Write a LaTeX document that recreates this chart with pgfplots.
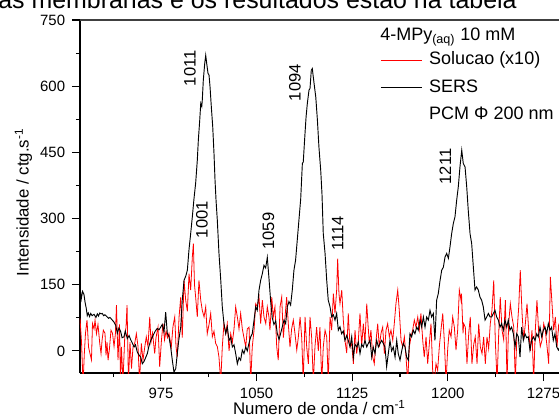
\documentclass[border=0pt]{standalone}
\usepackage{fontspec}
\setmainfont{Liberation Sans}
\usepackage{pgfplots}
\pgfplotsset{compat=1.18}

\newcommand\tickfont{\fontsize{11.2pt}{13pt}\selectfont}
\newcommand\labfont{\fontsize{12.6pt}{15pt}\selectfont}
\newcommand\legfont{\fontsize{13.5pt}{16pt}\selectfont}
\newcommand\pkfont{\fontsize{12.4pt}{15pt}\selectfont}

\begin{document}
\begin{tikzpicture}
% the reference is a cropped screenshot: keep the same window
\useasboundingbox (-60pt,-33.75pt) rectangle (359.25pt,279.75pt);
\clip (-60pt,-33.75pt) rectangle (359.25pt,279.75pt);

\node[anchor=base west, inner sep=0pt, font=\fontsize{18.7pt}{22pt}\selectfont]
  at (-61.5pt,273pt) {as membranas e os resultados estão na tabela};

\begin{axis}[
  name=ax, at={(0,0)}, anchor=south west, scale only axis,
  width=361.94pt, height=264.75pt,
  xmin=911.5, xmax=1290, ymin=-50, ymax=750,
  axis x line*=bottom, axis y line*=left,
  axis line style={line width=1.1pt, -},
  tick pos=left, tick align=outside,
  major tick length=6pt, minor tick length=3pt,
  every tick/.style={black, line width=0.8pt},
  xtick={975,1050,1125,1200,1275},
  minor xtick={937.5,1012.5,1087.5,1162.5,1237.5},
  ytick={0,150,300,450,600,750},
  minor ytick={75,225,375,525,675},
  tick label style={font=\tickfont, inner sep=0pt},
  xticklabel style={yshift=-5pt},
  yticklabel style={xshift=-5pt},
  /pgf/number format/assume math mode=true,
  /pgf/number format/1000 sep={},
  xlabel={Numero de onda / cm\textsuperscript{-1}},
  ylabel={Intensidade / ctg.s\textsuperscript{-1}},
  label style={font=\labfont, inner sep=0pt},
  xlabel style={at={(axis description cs:0.496,-0.1178)}, anchor=base},
  ylabel style={at={(axis description cs:-0.1064,0.483)}, anchor=base},
  legend style={at={(axis description cs:0.6217,0.9122)}, anchor=north west,
    draw=none, fill=none, font=\legfont, inner sep=0pt, row sep=7.6pt,
    column sep=5pt, cells={anchor=west},
    nodes={inner sep=0pt, text height=10pt, text depth=3pt}},
  legend image code/.code={\draw[#1] (0pt,0pt) -- (31pt,0pt);},
]

\addplot[red, line width=0.6pt] table[x=x, y=y] {
x y
911.5 74
912.7 20
913.9 -75
914.9 -6
915.8 40
917.0 70
918.2 9
919.3 -6
920.5 -20
921.3 62
922.5 50
923.3 70
924.4 39
925.6 60
927.0 17
928.0 -6
928.8 24
929.8 47
931.1 40
931.9 -10
932.7 20
933.5 -21
934.6 5
935.8 47
937.0 40
938.2 10
939.3 40
940.1 104
941.3 -21
942.5 60
943.3 -70
944.0 9
945.2 -70
946.6 32
947.6 54
948.4 104
949.5 -70
950.7 20
951.9 -40
953.1 10
954.4 17
955.7 39
957.0 10
958.2 -70
959.6 17
960.9 -21
962.1 5
963.5 32
964.8 10
966.2 77
967.2 20
968.4 40
970.1 -6
971.1 30
972.7 54
974.0 -36
975.4 25
976.6 62
977.8 25
979.0 45
980.1 30
981.3 40
983.1 9
984.4 55
985.8 77
986.8 10
987.8 -14
989.2 77
990.5 122
991.7 30
993.1 160
994.4 115
995.7 90
997.0 175
998.3 138
999.6 213
1000.4 243
1001.3 150
1002.2 122
1003.5 77
1004.8 160
1006.2 115
1007.4 92
1008.8 77
1010.1 100
1011.3 39
1012.7 60
1014.0 85
1015.3 32
1016.6 45
1017.9 17
1019.2 10
1020.5 -14
1021.9 -70
1023.1 9
1024.4 62
1025.8 40
1027.0 62
1028.4 0
1029.7 39
1031.0 20
1032.3 50
1033.6 100
1034.9 77
1036.2 50
1037.5 85
1038.8 50
1040.1 30
1041.5 9
1042.7 50
1044.1 54
1045.4 -70
1046.6 9
1048.0 47
1049.3 107
1050.6 100
1051.9 122
1053.2 62
1054.5 115
1055.8 77
1057.2 62
1058.4 100
1059.7 77
1060.5 47
1061.9 122
1063.1 77
1064.4 100
1065.8 9
1067.0 -21
1068.4 100
1069.7 122
1071.0 30
1072.3 77
1073.6 122
1074.9 60
1076.2 9
1077.5 50
1078.8 70
1080.1 40
1081.5 2
1082.7 30
1084.1 77
1085.4 30
1086.6 -70
1088.0 77
1089.3 9
1090.6 -29
1091.9 77
1093.2 30
1094.5 -70
1095.8 10
1097.1 54
1098.4 0
1099.7 54
1101.1 -70
1102.3 9
1103.7 47
1105.0 32
1106.2 -70
1107.6 77
1108.9 47
1110.2 130
1111.5 85
1112.8 138
1113.6 209
1114.6 130
1115.4 107
1116.8 138
1118.0 70
1119.3 24
1120.7 -5
1121.9 85
1123.3 10
1124.6 17
1125.9 -29
1127.2 47
1128.5 -6
1129.8 24
1131.1 85
1132.4 10
1133.7 62
1135.0 20
1136.4 107
1137.4 60
1138.4 17
1139.7 47
1141.1 -14
1142.3 -29
1143.7 24
1145.0 62
1146.2 9
1147.6 40
1148.9 54
1150.2 -6
1151.5 47
1152.8 62
1154.1 32
1155.4 47
1156.8 24
1158.0 62
1159.3 107
1160.7 138
1161.9 92
1163.3 24
1164.6 9
1165.9 32
1167.2 -14
1168.5 -70
1169.8 9
1171.1 32
1172.4 47
1173.7 70
1175.0 54
1176.4 77
1177.6 47
1178.9 85
1180.3 24
1181.5 -14
1182.9 32
1184.2 -29
1185.5 17
1186.8 62
1188.1 -44
1189.4 -70
1190.7 -29
1192.0 -44
1193.3 9
1194.6 47
1196.0 85
1197.2 24
1198.6 -70
1199.9 5
1201.1 47
1202.5 32
1203.8 77
1205.1 54
1206.4 2
1207.7 47
1209.0 138
1210.3 115
1210.7 130
1211.9 40
1212.4 62
1213.7 54
1215.0 -29
1216.4 40
1217.6 77
1218.9 -29
1220.3 15
1221.5 32
1222.9 -29
1224.2 62
1225.5 9
1226.8 -6
1228.1 32
1229.4 -29
1230.7 32
1232.0 5
1233.3 62
1234.6 92
1236.0 160
1237.2 25
1238.6 -70
1239.9 40
1241.1 122
1242.5 47
1243.8 25
1245.1 115
1246.4 -70
1247.7 62
1249.0 107
1250.3 77
1251.7 54
1252.9 -70
1254.2 40
1255.6 100
1256.8 183
1258.2 85
1259.5 25
1260.8 62
1262.1 107
1263.4 47
1264.7 0
1266.0 47
1267.3 -70
1268.6 47
1269.9 115
1271.3 40
1272.5 10
1273.9 25
1275.2 62
1276.4 47
1277.8 10
1279.1 -29
1280.4 168
1281.7 107
1283.0 47
1284.3 77
1285.6 9
1287.0 62
1288.0 30
};
\addlegendentry{Solucao (x10)}

\addplot[black, line width=0.7pt] table[x=x, y=y] {
x y
911.5 145
912.5 118
913.5 135
914.6 128
915.5 110
916.5 95
917.2 80
918.0 86
919.0 78
919.9 85
921.0 80
922.5 83
924.0 76
925.1 84
926.0 79
927.0 86
928.0 84
929.0 85
930.0 80
931.0 82
932.9 77
934.0 74
935.0 76
936.8 70
938.0 66
939.5 58
940.8 40
942.0 52
943.4 44
944.5 30
946.0 32
947.0 45
948.6 28
950.0 35
951.3 25
952.5 18
953.9 9
955.0 14
956.4 -2
957.5 -8
959.1 -14
960.4 -29
961.7 -24
963.0 -15
964.3 -6
965.5 10
967.0 24
968.0 30
969.5 39
970.5 45
972.1 51
973.5 48
974.8 54
976.0 60
977.4 43
978.7 88
980.0 39
981.3 32
982.6 9
983.9 -21
985.2 -48
986.6 -40
987.8 -6
989.0 25
990.5 54
991.7 115
993.1 160
994.5 170
995.7 183
997.0 230
998.3 266
999.6 304
1000.9 345
1002.2 380
1003.5 432
1004.3 477
1005.4 523
1006.2 561
1007.0 554
1007.4 568
1008.2 613
1009.3 651
1010.1 670
1010.9 651
1011.9 629
1012.7 625
1013.5 598
1014.5 553
1015.6 508
1016.6 447
1017.4 387
1018.2 341
1019.2 296
1020.5 221
1021.9 160
1023.1 100
1024.4 62
1025.8 39
1027.0 54
1028.4 24
1029.7 30
1031.0 9
1032.3 14
1033.6 -6
1034.9 -29
1036.2 -15
1037.5 -21
1038.8 2
1040.1 -6
1041.5 9
1042.7 0
1044.0 17
1045.4 32
1046.6 39
1048.0 70
1049.3 100
1050.5 92
1051.9 138
1053.2 160
1054.5 175
1055.8 194
1057.1 188
1058.4 212
1059.7 165
1061.1 110
1062.3 75
1063.6 60
1065.0 68
1066.2 40
1067.6 26
1068.9 40
1070.1 54
1071.5 70
1072.8 62
1074.1 100
1075.4 112
1076.7 104
1078.0 138
1079.3 183
1080.6 206
1081.9 251
1083.3 300
1084.6 345
1085.9 425
1086.6 428
1087.8 485
1088.8 530
1089.8 561
1091.1 591
1091.9 595
1092.9 636
1093.7 640
1094.3 625
1095.1 606
1096.4 576
1097.7 523
1098.9 462
1100.3 409
1101.3 355
1102.3 266
1103.7 221
1105.0 160
1106.2 115
1107.6 100
1108.9 77
1110.2 82
1111.5 70
1112.8 85
1114.1 47
1115.4 55
1116.7 39
1118.0 45
1119.3 24
1120.7 35
1121.9 24
1123.3 9
1124.6 32
1125.9 -14
1127.2 15
1128.6 9
1129.8 20
1131.1 -6
1132.4 15
1133.7 9
1135.0 24
1136.4 9
1137.6 17
1139.0 24
1140.3 -14
1141.5 9
1142.9 -6
1144.2 24
1145.5 9
1146.8 17
1148.1 24
1149.4 17
1150.7 9
1152.0 -36
1153.3 -6
1154.6 24
1155.9 0
1157.2 9
1158.6 -14
1159.9 24
1161.1 -6
1162.5 -21
1163.8 0
1165.1 17
1166.4 9
1167.7 -14
1169.0 -21
1170.3 39
1171.6 32
1172.9 47
1174.2 39
1175.6 54
1176.8 47
1178.2 70
1179.5 54
1180.8 77
1182.1 54
1183.4 77
1184.7 70
1186.0 92
1187.3 77
1188.6 85
1189.9 24
1191.2 115
1192.5 130
1193.9 160
1195.2 183
1196.5 190
1197.8 213
1199.1 221
1200.4 210
1201.7 236
1203.0 266
1204.3 289
1205.6 304
1206.9 341
1208.2 372
1209.5 417
1210.9 455
1212.1 425
1213.5 417
1214.8 372
1216.0 319
1217.4 266
1218.7 243
1220.0 190
1221.3 138
1222.6 145
1223.9 138
1225.2 122
1226.5 115
1227.8 100
1229.2 70
1230.5 77
1231.8 85
1233.1 77
1234.4 77
1235.7 85
1237.0 92
1238.3 77
1239.6 70
1240.9 54
1242.2 62
1243.5 47
1244.8 70
1246.2 54
1247.4 70
1248.7 47
1250.0 54
1251.4 39
1252.7 9
1254.0 39
1255.3 32
1256.6 -14
1257.9 54
1259.2 24
1260.5 39
1261.8 30
1263.1 32
1264.4 2
1265.7 24
1267.0 32
1268.4 24
1269.7 39
1270.9 32
1272.3 54
1273.6 32
1274.9 47
1276.2 54
1277.5 39
1278.8 62
1280.1 47
1281.4 54
1282.7 24
1284.0 39
1285.4 9
1286.7 2
1288.0 10
};
\addlegendentry{SERS}

\addlegendimage{empty legend}
\addlegendentry{PCM Φ 200 nm}

\node[rotate=90, font=\pkfont] at (axis cs:997.8,640.6) {1011};
\node[rotate=90, font=\pkfont] at (axis cs:1007.2,297.3) {1001};
\node[rotate=90, font=\pkfont] at (axis cs:1059.2,271.7) {1059};
\node[rotate=90, font=\pkfont] at (axis cs:1080.0,607.8) {1094};
\node[rotate=90, font=\pkfont] at (axis cs:1113.7,266.7) {1114};
\node[rotate=90, font=\pkfont] at (axis cs:1198.0,417.9) {1211};
\end{axis}

\draw[line width=0.8pt, black!75] (ax.north west) -- (ax.north east);
\node[anchor=base west, inner sep=0pt, font=\legfont]
  at (225pt,249.2pt) {4-MPy\textsubscript{(aq)} 10 mM};
\end{tikzpicture}
\end{document}
